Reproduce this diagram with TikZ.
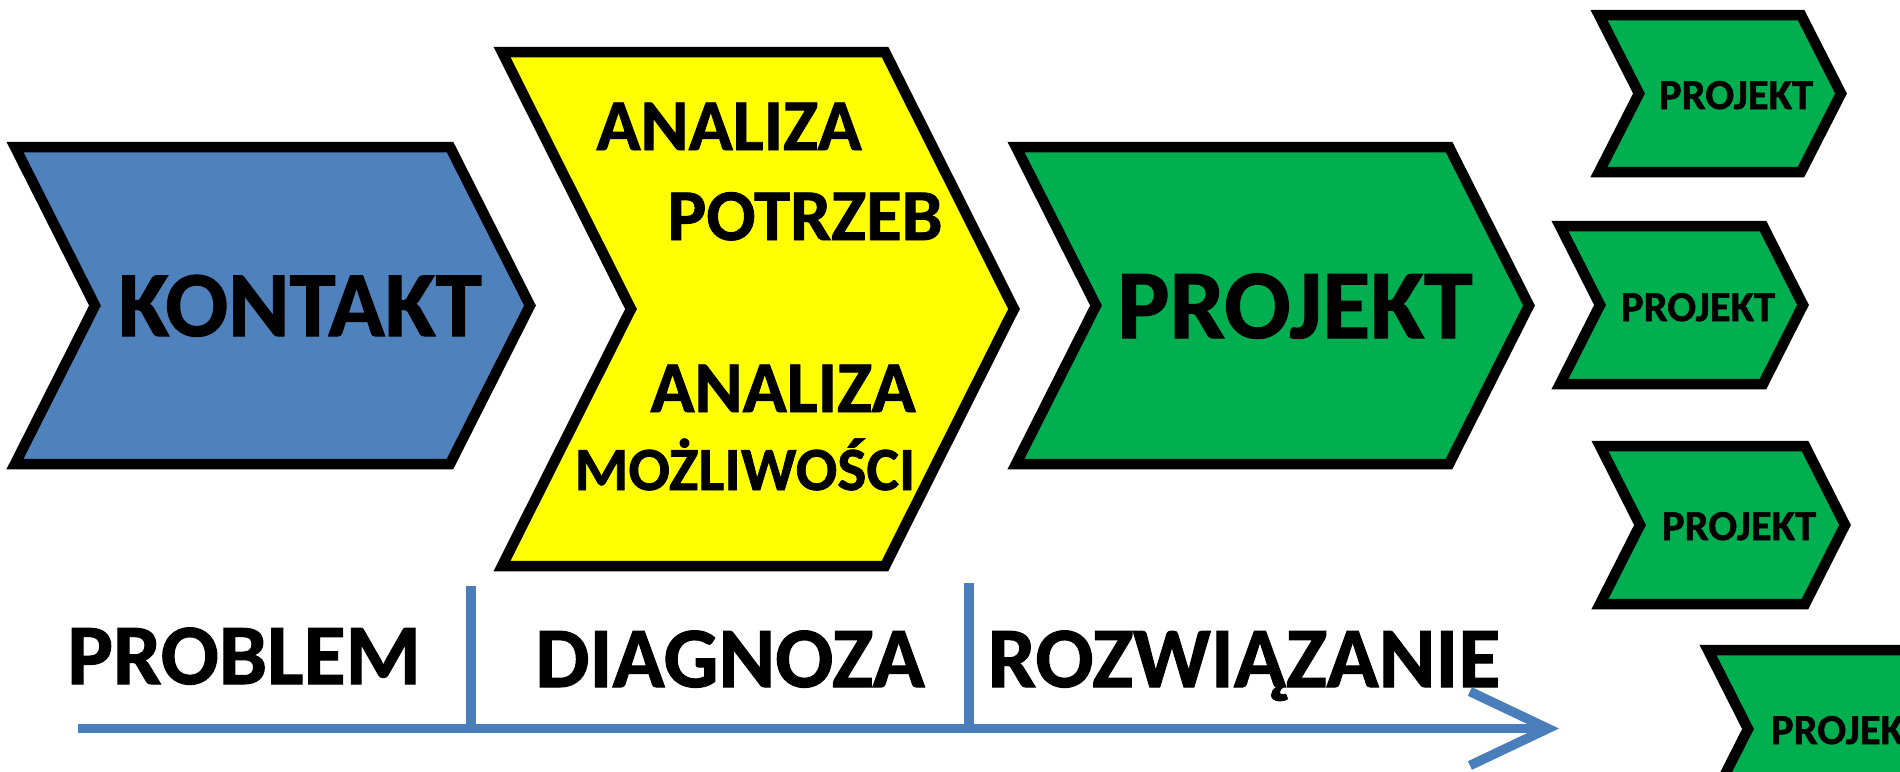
\documentclass[tikz,border=0pt]{standalone}
\usepackage{fontspec}
\setmainfont{Carlito}[BoldFeatures={FakeBold=1.2}]
\usepackage{xcolor}
\usetikzlibrary{arrows.meta}

\definecolor{kblue}{HTML}{4F81BD}
\definecolor{kyellow}{HTML}{FFFF00}
\definecolor{kgreen}{HTML}{00B050}
\definecolor{tblue}{HTML}{4A7EBB}

\tikzset{
  chev/.style={draw=black, line width=0.21cm, line join=miter, miter limit=10},
  lbl/.style={anchor=base, inner sep=0pt, font=\bfseries},
  axis/.style={draw=tblue, line width=0.19cm},
  tick/.style={draw=tblue, line width=0.19cm}
}

\begin{document}
\begin{tikzpicture}[x=0.02cm,y=-0.02cm]

      \clip (0,0) rectangle (1900,771);

      \draw[chev, fill=kblue] (15,147) -- (450,147) -- (530,305.5) -- (450,464) -- (15,464) -- (95,305.5) -- cycle;
      \draw[chev, fill=kyellow] (502,52) -- (885,52) -- (1014,309) -- (885,566) -- (502,566) -- (631,309) -- cycle;
      \draw[chev, fill=kgreen] (1016,147) -- (1449,147) -- (1529,305.5) -- (1449,464) -- (1016,464) -- (1096,305.5) -- cycle;

      \draw[chev, fill=kgreen] (1599,15) -- (1801,15) -- (1841,93.5) -- (1801,172) -- (1599,172) -- (1639,93.5) -- cycle;
      \draw[chev, fill=kgreen] (1560,226) -- (1763,226) -- (1803,305) -- (1763,384) -- (1560,384) -- (1600,305) -- cycle;
      \draw[chev, fill=kgreen] (1600,446) -- (1805,446) -- (1845,525) -- (1805,604) -- (1600,604) -- (1640,525) -- cycle;
      \draw[chev, fill=kgreen] (1708,650) -- (1912,650) -- (1952,729) -- (1912,808) -- (1708,808) -- (1748,729) -- cycle;

      \node[lbl, font=\bfseries\fontsize{53}{60}\selectfont] (kontakt) at (300,336) {KONTAKT};

      \node[lbl, font=\bfseries\fontsize{41.5}{48}\selectfont] (analiza1) at (729,150) {ANALIZA};
      \node[lbl, font=\bfseries\fontsize{41.5}{48}\selectfont] (potrzeb) at (805,240) {POTRZEB};
      \node[lbl, font=\bfseries\fontsize{41.5}{48}\selectfont] (analiza2) at (783,412) {ANALIZA};
      \node[lbl, font=\bfseries\fontsize{35}{40}\selectfont] (mozliwosci) at (745,490) {MOŻLIWOŚCI};

      \node[lbl, font=\bfseries\fontsize{56}{62}\selectfont] (projekt) at (1295,338) {PROJEKT};

      \node[lbl, font=\bfseries\fontsize{24.3}{28}\selectfont] (projekt1) at (1736,109) {PROJEKT};
      \node[lbl, font=\bfseries\fontsize{24.3}{28}\selectfont] (projekt2) at (1698,321) {PROJEKT};
      \node[lbl, font=\bfseries\fontsize{24.3}{28}\selectfont] (projekt3) at (1739,540) {PROJEKT};
      \node[lbl, font=\bfseries\fontsize{24.3}{28}\selectfont] (projekt4) at (1848,744) {PROJEKT};

      \node[lbl, font=\bfseries\fontsize{49}{56}\selectfont] (problem) at (244,684) {PROBLEM};
      \node[lbl, font=\bfseries\fontsize{49}{56}\selectfont] (diagnoza) at (730,687) {DIAGNOZA};
      \node[lbl, font=\bfseries\fontsize{49}{56}\selectfont] (rozwiazanie) at (1244,687) {ROZWIĄZANIE};

      \coordinate (start) at (78,728.5);
      \coordinate (end) at (1559,728.5);
      \coordinate (cut1) at (471,728.5);
      \coordinate (cut2) at (969,728.5);
      \coordinate (top1) at (471,586);
      \coordinate (top2) at (969,583);

      \draw[tick] (top1) -- (cut1);
      \draw[tick] (top2) -- (cut2);
      \draw[axis, -{Straight Barb[length=1.56cm, width=1.48cm]}] (start) -- (end);

    \end{tikzpicture}
\end{document}
